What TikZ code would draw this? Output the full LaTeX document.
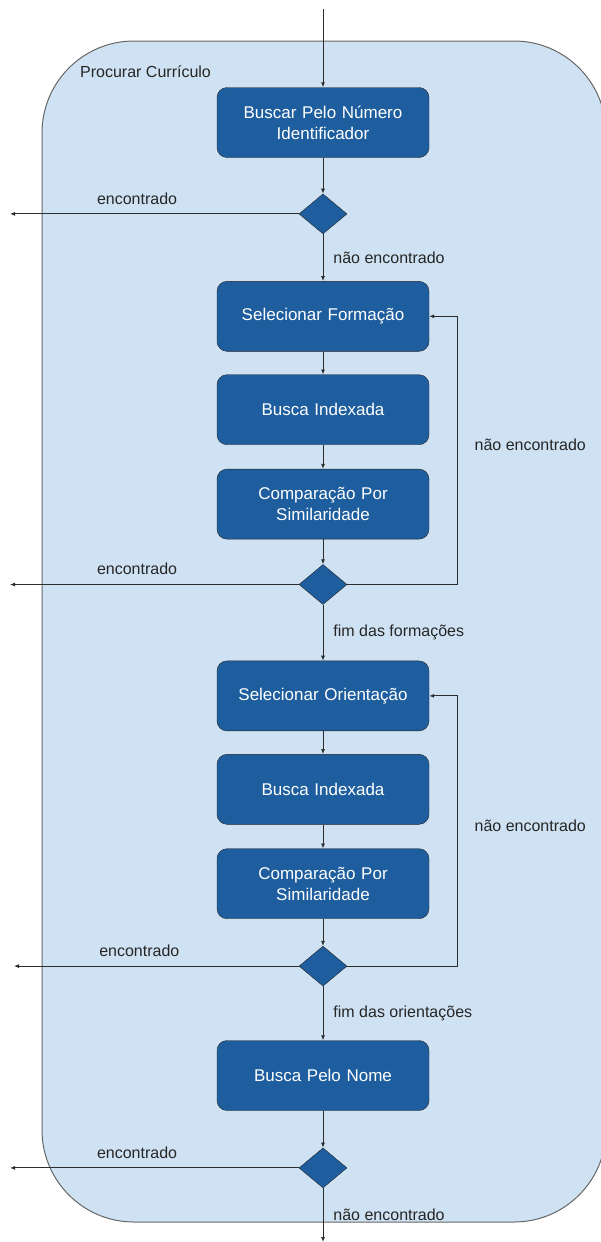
\documentclass[tikz,border=0pt]{standalone}
\usepackage{fontspec}
\setmainfont{Liberation Sans}
\usepackage{tikz}
\usetikzlibrary{shapes.geometric, arrows.meta, positioning}
\definecolor{boxblue}{RGB}{30,94,158}
\definecolor{lanefill}{RGB}{207,226,243}
\definecolor{linegray}{RGB}{45,45,45}

\begin{document}
\begin{tikzpicture}[
  x=1pt, y=1pt,
  font=\fontsize{16}{19}\selectfont,
  >={Latex[length=5pt,width=4pt]},
  node distance=23pt,
  every node/.style={align=center},
  act/.style={draw=black!85, rounded corners=10pt, fill=boxblue, text=white,
              minimum height=70pt, minimum width=212pt, text width=200pt,
              inner sep=0pt, font=\fontsize{17}{21}\selectfont},
  dec/.style={diamond, draw=black!85, fill=boxblue,
              minimum width=48pt, minimum height=40pt, inner sep=0pt},
  arr/.style={->, draw=linegray, line width=0.9pt},
  lbl/.style={inner sep=0pt, text=black!85}
]

\useasboundingbox (0,0) rectangle (600,-1242);
\draw[draw=black!60, fill=lanefill, line width=1pt, rounded corners=92pt]
  (42,-41) rectangle (606,-1222);
\node[lbl, anchor=west] (lane) at (80,-72) {Procurar Currículo};

\coordinate (start) at (323,-9);
\node[act] (b1) at (323,-122.5) {Buscar Pelo Número\\Identificador};
\node[dec, below=36pt of b1] (d1) {};
\node[act, below=47pt of d1] (b2) {Selecionar Formação};
\node[act, below=of b2] (b3) {Busca Indexada};
\node[act, below=24pt of b3] (b4) {Comparação Por\\Similaridade};
\node[dec, below=25pt of b4] (d2) {};
\node[act, below=56pt of d2] (b5) {Selecionar Orientação};
\node[act, below=of b5] (b6) {Busca Indexada};
\node[act, below=24pt of b6] (b7) {Comparação Por\\Similaridade};
\node[dec, below=27pt of b7] (d3) {};
\node[act, below=54pt of d3] (b8) {Busca Pelo Nome};
\node[dec, below=37pt of b8] (d4) {};
\coordinate (finish) at (323,-1242);

\coordinate (out1) at (d1 -| 10,0);
\coordinate (out2) at (d2 -| 10,0);
\coordinate (out3) at (d3 -| 14,0);
\coordinate (out4) at (d4 -| 10,0);

\draw[arr] (start) -- (b1);
\draw[arr] (b1) -- (d1);
\draw[arr] (d1) -- node[lbl, right=10pt] {não encontrado} (b2);
\draw[arr] (d1) -- node[lbl, pos=0.56, above=9pt] {encontrado} (out1);

\draw[arr] (b2) -- (b3);
\draw[arr] (b3) -- (b4);
\draw[arr] (b4) -- (d2);
\draw[arr] (d2) -- node[lbl, pos=0.56, above=9pt] {encontrado} (out2);
\draw[arr] (d2.east) -- ++(110,0) |- node[lbl, pos=0.26, right=17pt] {não encontrado} (b2.east);
\draw[arr] (d2) -- node[lbl, right=10pt] {fim das formações} (b5);

\draw[arr] (b5) -- (b6);
\draw[arr] (b6) -- (b7);
\draw[arr] (b7) -- (d3);
\draw[arr] (d3) -- node[lbl, pos=0.56, above=9pt] {encontrado} (out3);
\draw[arr] (d3.east) -- ++(110,0) |- node[lbl, pos=0.26, right=17pt] {não encontrado} (b5.east);
\draw[arr] (d3) -- node[lbl, right=10pt] {fim das orientações} (b8);

\draw[arr] (b8) -- (d4);
\draw[arr] (d4) -- node[lbl, pos=0.56, above=9pt] {encontrado} (out4);
\draw[arr] (d4) -- node[lbl, right=10pt] {não encontrado} (finish);

\end{tikzpicture}
\end{document}
